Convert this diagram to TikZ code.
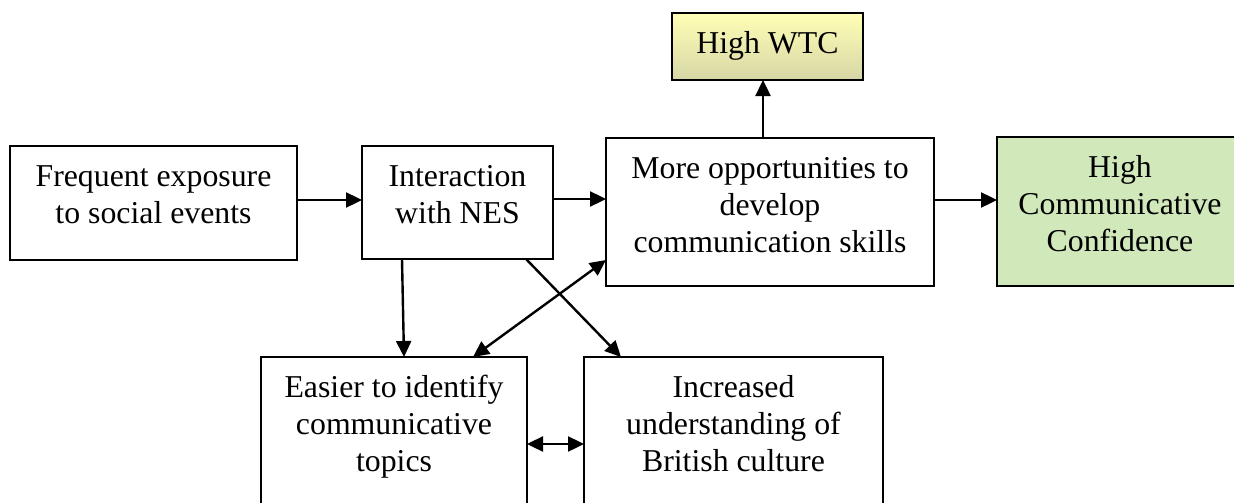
\documentclass[tikz,border=0pt]{standalone}
\usepackage{fontspec}
\setmainfont{Liberation Serif}
\usetikzlibrary{arrows.meta,calc}

\definecolor{confgreen}{RGB}{209,232,187}
\definecolor{wtctop}{RGB}{255,255,182}
\definecolor{wtcbottom}{RGB}{214,214,166}

\tikzset{
  box/.style={draw, line width=1.8pt, inner sep=0pt, outer sep=0pt},
  txt/.style={align=center, inner sep=0pt, anchor=north,
    font=\fontsize{31.8}{37}\selectfont},
  tip/.style={Triangle[length=16pt,width=15pt]},
  arr/.style={line width=2.4pt, -{Triangle[length=16pt,width=15pt]}},
  darr/.style={line width=2.4pt, {Triangle[length=16pt,width=15pt]}-{Triangle[length=16pt,width=15pt]}}
}

\begin{document}
\begin{tikzpicture}[x=1pt,y=-1pt]
\useasboundingbox (0,0) rectangle (1234,503);
\clip (0,0) rectangle (1234,503);

% boxes
\node[box, minimum width=287, minimum height=114] (A) at (153.5,203) {};
\node[box, minimum width=191, minimum height=113] (B) at (457.5,202.5) {};
\node[box, minimum width=328, minimum height=148] (C) at (770,212) {};
\node[box, fill=confgreen, minimum width=246, minimum height=149] (D) at (1120,211.5) {};
\node[box, top color=wtctop, bottom color=wtcbottom, minimum width=191, minimum height=67] (E) at (767.5,46.5) {};
\node[box, minimum width=266, minimum height=163] (F) at (394,438.5) {};
\node[box, minimum width=299, minimum height=163] (G) at (733.5,438.5) {};

% texts
\node[txt] (At) at ($(A.north)+(0,14.1)$) {\strut Frequent exposure\\to social events};
\node[txt] (Bt) at ($(B.north)+(0,14.1)$) {\strut Interaction\\with NES};
\node[txt] (Ct) at ($(C.north)+(0,14.1)$) {\strut More opportunities to\\develop\\communication skills};
\node[txt] (Dt) at ($(D.north)+(0,14.1)$) {\strut High\\Communicative\\Confidence};
\node[txt] (Et) at ($(E.north)+(0,14.1)$) {\strut High WTC};
\node[txt] (Ft) at ($(F.north)+(0,14.1)$) {\strut Easier to identify\\communicative\\topics};
\node[txt] (Gt) at ($(G.north)+(0,14.1)$) {\strut Increased\\understanding of\\British culture};

% connectors
\coordinate (ab) at ([yshift=3]A.east);
\draw[arr] (ab) -- (ab -| B.west);
\coordinate (bc) at ([yshift=3.5]B.east);
\draw[arr] (bc) -- (bc -| C.west);
\coordinate (cd) at ([yshift=12]C.east);
\draw[arr] (cd) -- (cd -| D.west);
\coordinate (ce) at ([xshift=-4.5]E.south);
\draw[arr] (ce |- C.north) -- (ce);
\draw[arr] ($(B.south west)+(40,0)$) -- ($(F.north west)+(143,0)$);
\draw[arr] ($(B.south east)+(-27,0)$) -- ($(G.north west)+(37,0)$);
\draw[darr] ($(C.south west)+(0,-26)$) -- ($(F.north east)+(-54,0)$);
\coordinate (fg) at ([yshift=-5.5]F.east);
\draw[darr] (fg) -- (fg -| G.west);
\end{tikzpicture}
\end{document}
